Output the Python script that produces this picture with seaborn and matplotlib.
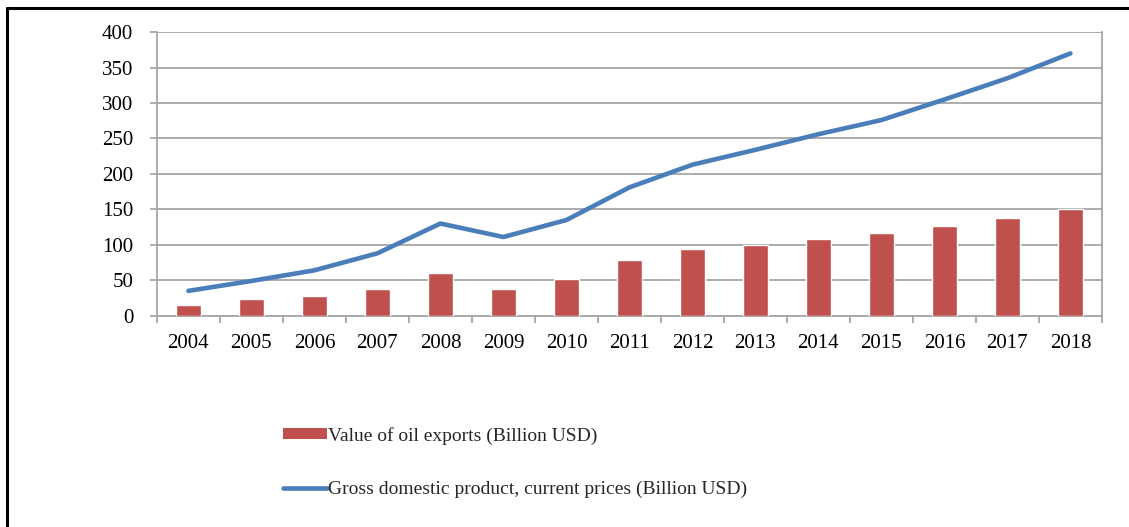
import numpy as np
import pandas as pd
import matplotlib
matplotlib.use("Agg")
import matplotlib.pyplot as plt
from matplotlib.lines import Line2D
from matplotlib.patches import Patch
import seaborn as sns

years = ["2004", "2005", "2006", "2007", "2008", "2009", "2010", "2011",
         "2012", "2013", "2014", "2015", "2016", "2017", "2018"]
oil_exports = [15, 23, 28, 37, 60.5, 37, 52, 79, 93.5, 100, 107.5, 116.5, 127, 138.5, 151]
gdp = [35, 49, 64, 88, 130, 111, 135, 181, 213, 234, 256, 276, 305, 335, 370]
y_ticks = [0, 50, 100, 150, 200, 250, 300, 350, 400]

bar_label = "Value of oil exports (Billion USD)"
line_label = "Gross domestic product, current prices (Billion USD)"

BAR_COLOR = "#c0504d"
LINE_COLOR = "#4a7ebb"
GRID_COLOR = "#a6a6a6"

sns.set_theme(style="white")
plt.rcParams["font.family"] = ["Liberation Serif", "DejaVu Serif"]

df = pd.DataFrame({"year": years, "oil": oil_exports, "gdp": gdp})
df["pos"] = np.arange(len(df))

fig = plt.figure(figsize=(11.29, 5.27), dpi=100)
ax = fig.add_axes([0.139, 0.401, 0.837, 0.538])

sns.barplot(data=df, x="year", y="oil", color=BAR_COLOR, width=0.4,
            saturation=1, ax=ax, zorder=3)
sns.lineplot(data=df, x="pos", y="gdp", color=LINE_COLOR, linewidth=3.3,
             ax=ax, zorder=4, solid_capstyle="round")

ax.set_xlim(-0.5, len(years) - 0.5)
ax.set_ylim(0, 400)
ax.set_yticks(y_ticks)
ax.set_yticklabels([str(v) for v in y_ticks])
ax.set_xticks(np.arange(len(years)))
ax.set_xticklabels(years)
ax.set_xticks(np.arange(len(years) + 1) - 0.5, minor=True)
ax.set_xlabel("")
ax.set_ylabel("")

ax.grid(axis="y", color=GRID_COLOR, linewidth=1.3, zorder=0)
ax.set_axisbelow(True)
for side in ["left", "right", "bottom"]:
    ax.spines[side].set_visible(True)
    ax.spines[side].set_color(GRID_COLOR)
    ax.spines[side].set_linewidth(1.3)
ax.spines["top"].set_visible(False)

ax.tick_params(axis="y", which="major", left=True, length=5, width=1.3,
               color=GRID_COLOR, pad=12, labelsize=15, labelcolor="black")
ax.tick_params(axis="x", which="major", bottom=False, length=0, pad=13,
               labelsize=15, labelcolor="black")
ax.tick_params(axis="x", which="minor", bottom=True, length=5, width=1.3,
               color=GRID_COLOR)

handles = [
    Patch(facecolor=BAR_COLOR, edgecolor="none", label=bar_label),
    Line2D([0], [0], color=LINE_COLOR, linewidth=3.3, solid_capstyle="round",
           label=line_label),
]
fig.legend(handles=handles, loc="upper left", bbox_to_anchor=(0.2503, 0.19),
           frameon=False, fontsize=14, handlelength=2.3, handleheight=0.5,
           handletextpad=0.05, labelspacing=1.85, borderaxespad=0,
           borderpad=0)

# outer frame edges
fig.add_artist(Line2D([7 / 1129, 7 / 1129], [0, 1 - 7.5 / 527],
                      transform=fig.transFigure, color="black", linewidth=2.2))
fig.add_artist(Line2D([7 / 1129, 1], [1 - 7.5 / 527, 1 - 7.5 / 527],
                      transform=fig.transFigure, color="black", linewidth=2.2))

fig.savefig("out.png", dpi=100, facecolor="white")
